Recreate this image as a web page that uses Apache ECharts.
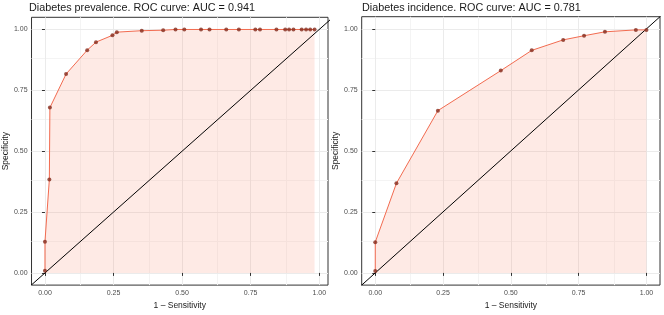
<!DOCTYPE html>
<html><head><meta charset="utf-8">
<script src="https://cdn.jsdelivr.net/npm/echarts@6/dist/echarts.min.js"></script>
<style>html,body{margin:0;padding:0;background:#fff}#c{width:664px;height:315px}</style>
</head><body><div id="c"></div>
<script>
// Left panel: Diabetes prevalence
const prevTitle = 'Diabetes prevalence. ROC curve: AUC = 0.941';
const prevFPR  = [0, 0, 0.016, 0.018, 0.077, 0.154, 0.186, 0.246, 0.262, 0.353, 0.431, 0.476, 0.508, 0.569, 0.600, 0.661, 0.707, 0.767, 0.784, 0.844, 0.876, 0.890, 0.906, 0.936, 0.952, 0.967, 0.983];
const prevSpec = [0.009, 0.128, 0.384, 0.679, 0.817, 0.915, 0.948, 0.976, 0.989, 0.995, 0.997, 1.0, 1.0, 1.0, 1.0, 1.0, 1.0, 1.0, 1.0, 1.0, 1.0, 1.0, 1.0, 1.0, 1.0, 1.0, 1.0];
// Right panel: Diabetes incidence
const incTitle = 'Diabetes incidence. ROC curve: AUC = 0.781';
const incFPR  = [0, 0, 0.078, 0.231, 0.463, 0.577, 0.693, 0.770, 0.847, 0.961, 1.0];
const incSpec = [0.008, 0.126, 0.367, 0.665, 0.829, 0.912, 0.955, 0.972, 0.988, 0.996, 0.996];
// Axis ticks
const majorTicks = [0, 0.25, 0.5, 0.75, 1.0];
const minorTicks = [0.125, 0.375, 0.625, 0.875];
const xName = '1 \u2013 Sensitivity';
const yName = 'Specificity';

const FONT = '"Liberation Sans", Arial, sans-serif';
const chart = echarts.init(document.getElementById('c'), null, {renderer: 'canvas'});

const panels = [
  {title: prevTitle, fpr: prevFPR, spec: prevSpec, grid: {left: 29, right: 336, top: 17.3, bottom: 23.3}, xmin: -0.049, xmax: 1.032},
  {title: incTitle, fpr: incFPR, spec: incSpec, grid: {left: 361.7, right: 4, top: 16.7, bottom: 23.3}, xmin: -0.05, xmax: 1.05}
];

const grids = [], xAxes = [], yAxes = [], series = [], titles = [];
panels.forEach((p, i) => {
  grids.push(Object.assign({show: true, borderColor: '#333333', borderWidth: 1, backgroundColor: '#fff', containLabel: false}, p.grid));
  titles.push({text: p.title, left: Math.round(p.grid.left), top: 2.5, padding: 0, textStyle: {fontFamily: FONT, fontSize: 10.8, fontWeight: 'normal', color: '#1a1a1a'}});
  const lab = {fontFamily: FONT, fontSize: 7, color: '#4d4d4d', customValues: majorTicks, formatter: v => v.toFixed(2)};
  xAxes.push({type: 'value', gridIndex: i, min: p.xmin, max: p.xmax,
    axisLine: {show: false}, splitLine: {show: false},
    axisTick: {show: true, length: 3, customValues: majorTicks, lineStyle: {color: '#333333', width: 1}},
    axisLabel: Object.assign({margin: 4}, lab),
    name: xName, nameLocation: 'middle', nameGap: 11,
    nameTextStyle: {fontFamily: FONT, fontSize: 8.5, color: '#1a1a1a'}});
  yAxes.push({type: 'value', gridIndex: i, min: -0.05, max: 1.05,
    axisLine: {show: false}, splitLine: {show: false},
    axisTick: {show: true, length: 3, customValues: majorTicks, lineStyle: {color: '#333333', width: 1}},
    axisLabel: Object.assign({margin: 4}, lab),
    name: yName, nameLocation: 'middle', nameGap: 12.5, nameRotate: 90,
    nameTextStyle: {fontFamily: FONT, fontSize: 8.5, color: '#1a1a1a'}});
  // gridlines
  const gl = (vals, color) => vals.flatMap(v => [{xAxis: v, lineStyle: {color}}, {yAxis: v, lineStyle: {color}}]);
  series.push({type: 'line', xAxisIndex: i, yAxisIndex: i, data: [], z: 0, silent: true,
    markLine: {silent: true, z: 0, symbol: 'none', label: {show: false}, animation: false,
      lineStyle: {type: 'solid', width: 1},
      data: gl(minorTicks, '#f4f4f4').concat(gl(majorTicks, '#ebebeb'))}});
  const pts = p.fpr.map((x, k) => [x, p.spec[k]]);
  // ribbon fill
  series.push({type: 'line', xAxisIndex: i, yAxisIndex: i, data: pts, z: 1, silent: true,
    symbol: 'none', lineStyle: {width: 0, opacity: 0},
    areaStyle: {color: 'rgba(252,140,110,0.26)', origin: 0}});
  // diagonal reference
  series.push({type: 'line', xAxisIndex: i, yAxisIndex: i, data: [[-0.1, -0.1], [1.1, 1.1]], z: 2, silent: true,
    symbol: 'none', lineStyle: {color: '#000', width: 1}});
  // ROC line
  series.push({type: 'line', xAxisIndex: i, yAxisIndex: i, data: pts, z: 3, silent: true,
    symbol: 'none', lineStyle: {color: '#f26b50', width: 1}});
  // points
  series.push({type: 'scatter', xAxisIndex: i, yAxisIndex: i, data: pts, z: 4, silent: true,
    symbolSize: 4, itemStyle: {color: '#852b1c'}});
});

chart.setOption({animation: false, title: titles, grid: grids, xAxis: xAxes, yAxis: yAxes, series: series});
</script></body></html>
